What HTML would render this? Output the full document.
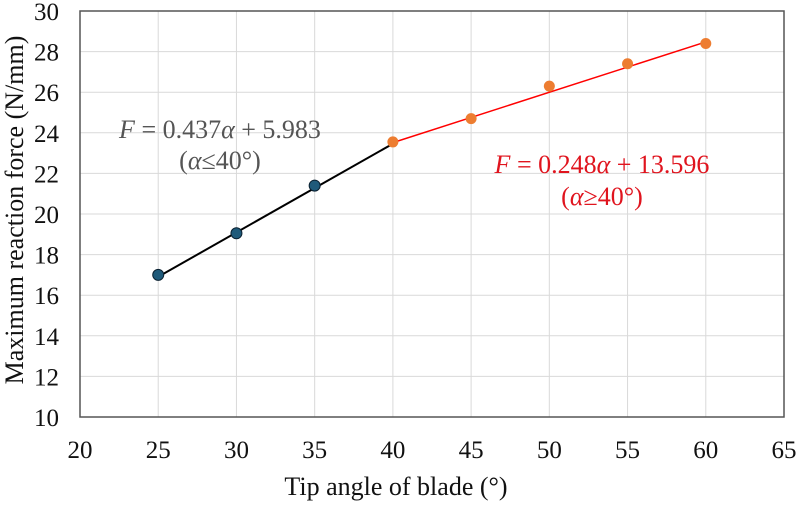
<!DOCTYPE html>
<html><head><meta charset="utf-8"><style>
body{margin:0;background:#fff}
svg text{font-family:"Liberation Serif",serif}
</style></head><body>
<svg id="c" width="800" height="502" xmlns="http://www.w3.org/2000/svg"></svg>
<script>
const xTicks=[20,25,30,35,40,45,50,55,60,65];
const yTicks=[10,12,14,16,18,20,22,24,26,28,30];
const blueX=[25,30,35,40];
const blueY=[17.0,19.05,21.4];
const orangeX=[40,45,50,55,60];
const orangeY=[23.55,24.7,26.3,27.4,28.4];
const fit1=[0.437,5.983,25,40];
const fit2=[0.248,13.596,40,60];
const L=80,R=784,T=11,B=417;
const sx=v=>L+(v-20)/(65-20)*(R-L);
const sy=v=>B-(v-10)/(30-10)*(B-T);
const svg=document.getElementById('c');
const NS='http://www.w3.org/2000/svg';
function mk(tag,attrs,name,txt){const e=document.createElementNS(NS,tag);for(const k in attrs)e.setAttribute(k,attrs[k]);


if(txt!==undefined)e.textContent=txt;svg.appendChild(e);return e;}
xTicks.forEach(v=>{mk('line',{x1:sx(v),x2:sx(v),y1:T,y2:B,stroke:'#d9d9d9','stroke-width':1},'x-gridline');
mk('text',{x:sx(v),y:458,'font-size':25,'text-anchor':'middle',fill:'#111'},'x-tick-label',v);});
yTicks.forEach(v=>{mk('line',{x1:L,x2:R,y1:sy(v),y2:sy(v),stroke:'#d9d9d9','stroke-width':1},'y-gridline');
mk('text',{x:59,y:sy(v)+9,'font-size':25,'text-anchor':'end',fill:'#111'},'y-tick-label',v);});
mk('rect',{x:L,y:T,width:R-L,height:B-T,fill:'none',stroke:'#555','stroke-width':1.5},'plot-border');
mk('line',{x1:sx(fit1[2]),y1:sy(fit1[0]*fit1[2]+fit1[1]),x2:sx(fit1[3]),y2:sy(fit1[0]*fit1[3]+fit1[1]),stroke:'#000','stroke-width':2},'fit-line-below-40');
mk('line',{x1:sx(fit2[2]),y1:sy(fit2[0]*fit2[2]+fit2[1]),x2:sx(fit2[3]),y2:sy(fit2[0]*fit2[3]+fit2[1]),stroke:'#f00','stroke-width':1.5},'fit-line-above-40');
blueY.forEach((v,i)=>mk('circle',{cx:sx(blueX[i]),cy:sy(v),r:5.5,fill:'#1f5a7a',stroke:'#0a2030','stroke-width':1},'point-blue'));
orangeY.forEach((v,i)=>mk('circle',{cx:sx(orangeX[i]),cy:sy(v),r:5.5,fill:'#ed7d31'},'point-orange'));
const e1=mk('text',{x:220,y:138,'font-size':26,'text-anchor':'middle',fill:'#555'},'equation-below-40');
e1.innerHTML='<tspan font-style="italic">F</tspan> = 0.437<tspan font-style="italic">α</tspan> + 5.983';
const e1b=mk('text',{x:220,y:169,'font-size':26,'text-anchor':'middle',fill:'#555'},'condition-below-40');
e1b.innerHTML='(<tspan font-style="italic">α</tspan>≤40°)';
const e2=mk('text',{x:602,y:173,'font-size':26,'text-anchor':'middle',fill:'#e0141e'},'equation-above-40');
e2.innerHTML='<tspan font-style="italic">F</tspan> = 0.248<tspan font-style="italic">α</tspan> + 13.596';
const e2b=mk('text',{x:602,y:205,'font-size':26,'text-anchor':'middle',fill:'#e0141e'},'condition-above-40');
e2b.innerHTML='(<tspan font-style="italic">α</tspan>≥40°)';
mk('text',{x:396,y:495,'font-size':26,'text-anchor':'middle',fill:'#111'},'x-axis-title','Tip angle of blade (°)');
mk('text',{x:0,y:0,'font-size':26,'text-anchor':'middle',fill:'#111',transform:'translate(23,210) rotate(-90)'},'y-axis-title','Maximum  reaction force (N/mm)');
</script>
</body></html>
